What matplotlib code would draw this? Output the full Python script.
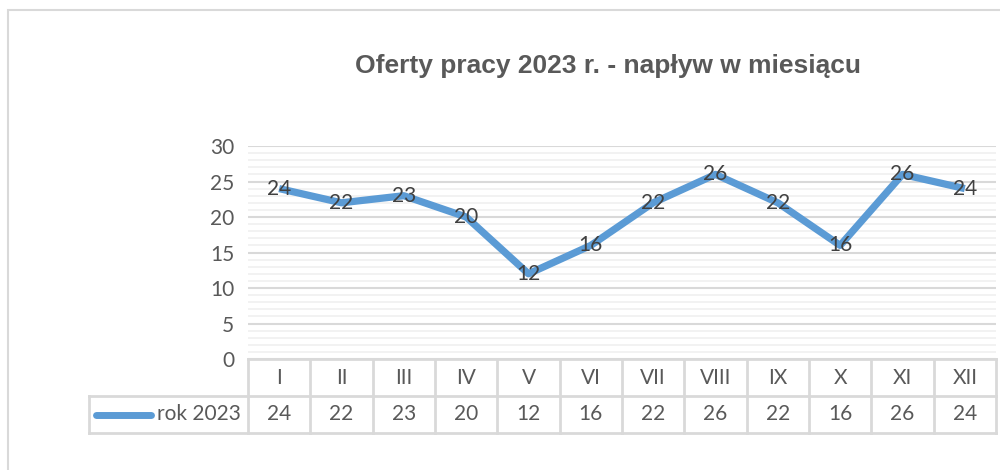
import matplotlib.pyplot as plt
from matplotlib.patches import Rectangle
from matplotlib.ticker import MultipleLocator

months = ["I", "II", "III", "IV", "V", "VI", "VII", "VIII", "IX", "X", "XI", "XII"]
offers = [24, 22, 23, 20, 12, 16, 22, 26, 22, 16, 26, 24]
series_name = "rok 2023"
title = "Oferty pracy 2023 r. - napływ w miesiącu"

blue = "#5B9BD5"
grid_major = "#D9D9D9"
grid_minor = "#F0F0F0"
text_grey = "#595959"
label_dark = "#404040"
font = "Lato"
fs = 15

fig = plt.figure(figsize=(10, 4.7), dpi=100)

# outer chart frame (runs off the right/bottom like the screenshot)
fig.patches.append(Rectangle((0.008, -0.2), 1.2, 1.2 - 10 / 470,
                             transform=fig.transFigure, fill=False,
                             edgecolor=grid_major, linewidth=1.5))

fig.text(0.608, 1 - 66 / 470, title, ha="center", va="center",
         fontsize=19, fontweight="bold", color=text_grey,
         family="Liberation Sans")

# plot area
ax = fig.add_axes([0.248, 1 - 359 / 470, 0.748, (359 - 146) / 470])
x = list(range(len(months)))
ax.plot(x, offers, color=blue, linewidth=5.2, solid_joinstyle="round",
        solid_capstyle="butt", zorder=3)
for xi, v in zip(x, offers):
    ax.text(xi, v, str(v), ha="center", va="center", fontsize=fs,
            color=label_dark, family=font, zorder=4)

ax.set_xlim(-0.5, len(months) - 0.5)
ax.set_ylim(0, 30)
ax.yaxis.set_major_locator(MultipleLocator(5))
ax.yaxis.set_minor_locator(MultipleLocator(1))
ax.grid(which="major", axis="y", color=grid_major, linewidth=1.5, zorder=1)
ax.grid(which="minor", axis="y", color=grid_minor, linewidth=1.2, zorder=0)
ax.set_axisbelow(True)
ax.set_xticks([])
for s in ax.spines.values():
    s.set_visible(False)
ax.tick_params(axis="y", which="both", length=0, pad=10,
               labelsize=fs, labelcolor=text_grey)
for lab in ax.get_yticklabels():
    lab.set_family(font)

# data table under the plot
tab = fig.add_axes([0.248, 1 - 433 / 470, 0.748, (433 - 359) / 470])
tab.set_xlim(-0.5, len(months) - 0.5)
tab.set_ylim(0, 2)
tab.axis("off")
col_w = 0.748 * 1000 / len(months)
left_edge = -0.5 - (248 - 89) / col_w
lc = dict(color=grid_major, linewidth=2, clip_on=False, solid_capstyle="projecting")
right_edge = len(months) - 0.5
tab.plot([-0.5, right_edge], [2, 2], **lc)
tab.plot([left_edge, right_edge], [1, 1], **lc)
tab.plot([left_edge, right_edge], [0, 0], **lc)
tab.plot([left_edge, left_edge], [0, 1], **lc)
for k in range(len(months) + 1):
    tab.plot([k - 0.5, k - 0.5], [0, 2], **lc)
for xi, (m, v) in enumerate(zip(months, offers)):
    tab.text(xi, 1.5, m, ha="center", va="center", fontsize=fs,
             color=text_grey, family=font)
    tab.text(xi, 0.5, str(v), ha="center", va="center", fontsize=fs,
             color=text_grey, family=font)

# legend key inside the first table cell
key_x0 = left_edge + (96 - 89) / col_w
key_x1 = left_edge + (151 - 89) / col_w
tab.plot([key_x0, key_x1], [0.5, 0.5], color=blue, linewidth=5,
         solid_capstyle="round", clip_on=False)
tab.text(-0.5 - 7 / col_w, 0.5, series_name, ha="right", va="center",
         fontsize=fs, color=text_grey, family=font)

fig.savefig("out.png", dpi=100, facecolor="white")
